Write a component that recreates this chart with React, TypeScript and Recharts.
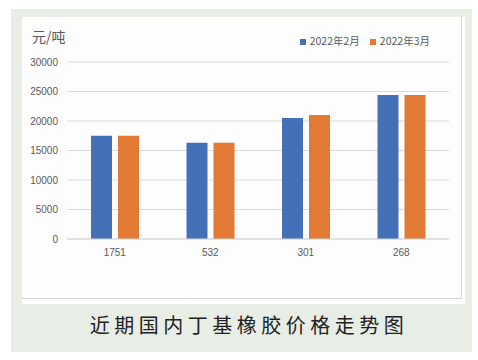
import { Bar, BarChart, CartesianGrid, Legend, XAxis, YAxis } from "recharts";

const categories = ["1751", "532", "301", "268"];
const feb2022 = [17500, 16300, 20500, 24400];
const mar2022 = [17500, 16300, 21000, 24400];
const yTicks = [0, 5000, 10000, 15000, 20000, 25000, 30000];

const data = categories.map((name, i) => ({ name, feb: feb2022[i], mar: mar2022[i] }));

const tickStyle = { fontSize: 10, fill: "#595959", fontFamily: "'Liberation Sans', Arial, sans-serif" };

export default function App() {
  return (
    <div style={{ position: "absolute", left: 0, top: 0, width: 478, height: 360, background: "#ffffff" }}>
      <div style={{ position: "absolute", left: 11, top: 9, width: 461, height: 343, background: "#e8ede6" }} />
      <div
        style={{
          position: "absolute",
          left: 22,
          top: 17,
          width: 443,
          height: 287,
          background: "#ffffff",
        }}
      >
        <div
          style={{
            position: "absolute",
            left: 0,
            top: 0,
            width: 440,
            height: 282,
            boxSizing: "border-box",
            borderRight: "1px solid #d6d6d6",
            borderBottom: "1px solid #d6d6d6",
            background: "#fdfdfd",
          }}
        />
        <div
          style={{
            position: "absolute",
            left: 10,
            top: 10,
            fontSize: 14,
            color: "#595959",
            fontFamily: "'Noto Sans CJK SC', sans-serif",
            lineHeight: "18px",
          }}
        >
          元/吨
        </div>
        <div style={{ position: "absolute", left: 0, top: 0 }}>
          <BarChart
            width={443}
            height={287}
            data={data}
            margin={{ top: 30, right: 16, bottom: 35, left: 0 }}
            barSize={21}
            barGap={6}
          >
            <CartesianGrid horizontal vertical={false} stroke="#d9d9d9" />
            <XAxis
              dataKey="name"
              axisLine={{ stroke: "#d9d9d9" }}
              tickLine={false}
              tick={tickStyle}
              tickSize={0}
              tickMargin={10}
              height={30}
            />
            <YAxis
              domain={[0, 30000]}
              ticks={yTicks}
              axisLine={false}
              tickLine={false}
              tick={tickStyle}
              tickSize={0}
              tickMargin={9}
              width={45}
            />
            <Legend
              verticalAlign="top"
              align="right"
              iconType="square"
              iconSize={6}
              wrapperStyle={{ top: 16, paddingRight: 9, fontSize: 10.5, fontFamily: "'Noto Sans CJK SC', sans-serif" }}
              formatter={(value) => <span style={{ color: "#595959" }}>{value}</span>}
            />
            <Bar dataKey="feb" name="2022年2月" fill="#4470b8" isAnimationActive={false} />
            <Bar dataKey="mar" name="2022年3月" fill="#e27a35" isAnimationActive={false} />
          </BarChart>
        </div>
      </div>
      <div
        style={{
          position: "absolute",
          left: 0,
          width: 478,
          top: 311,
          textAlign: "center",
          fontSize: 20,
          letterSpacing: 4.5,
          paddingLeft: 10,
          color: "#222222",
          fontFamily: "'Noto Sans CJK SC', sans-serif",
          lineHeight: "28px",
        }}
      >
        近期国内丁基橡胶价格走势图
      </div>
    </div>
  );
}
